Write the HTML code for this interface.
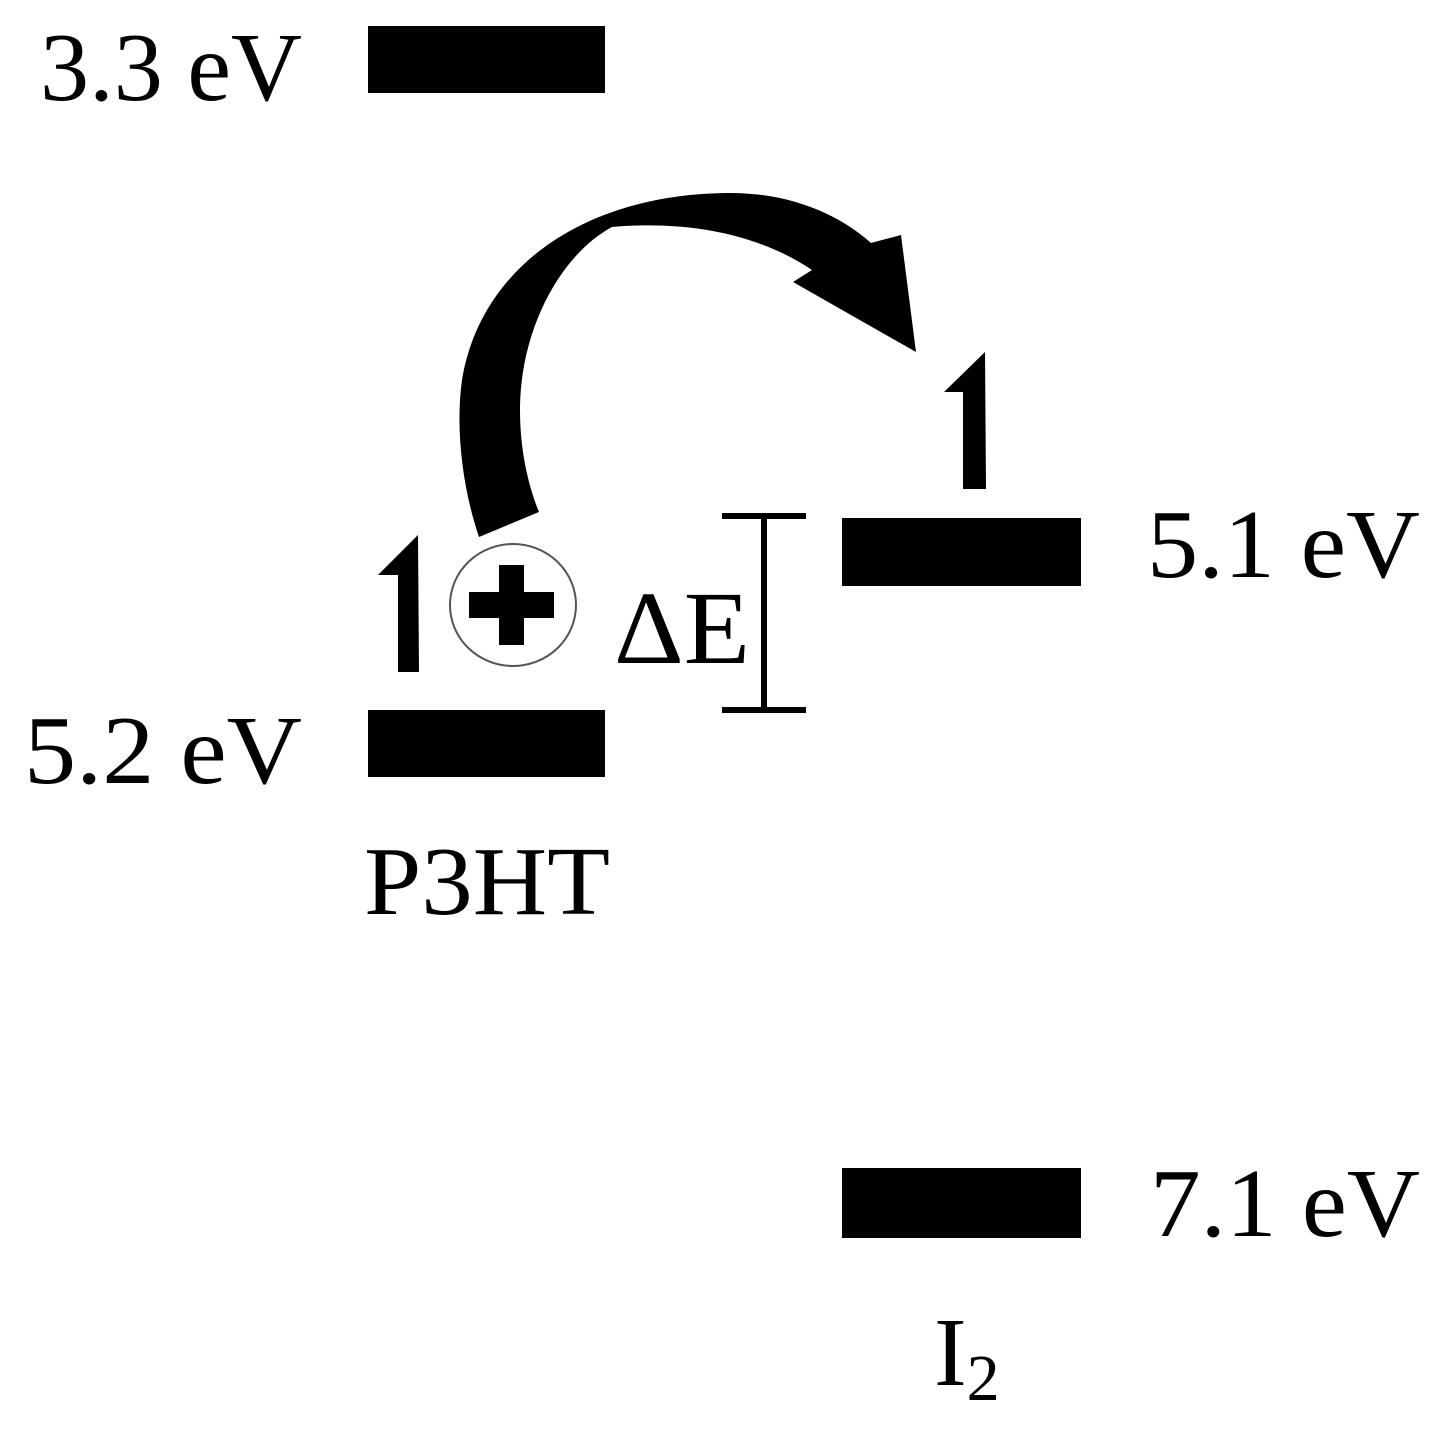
<!DOCTYPE html>
<html><head><meta charset="utf-8"><style>html,body{margin:0;padding:0;background:#fff}svg{display:block}</style></head>
<body>
<svg width="1455" height="1430" viewBox="0 0 1455 1430" xmlns="http://www.w3.org/2000/svg">
<g font-family="Liberation Serif, serif" font-size="98" fill="#000">
<text x="40" y="100" textLength="262" lengthAdjust="spacingAndGlyphs">3.3 eV</text>
<text x="24" y="783" textLength="278" lengthAdjust="spacingAndGlyphs">5.2 eV</text>
<text x="1147" y="577" textLength="273" lengthAdjust="spacingAndGlyphs">5.1 eV</text>
<text x="1150" y="1236" textLength="270" lengthAdjust="spacingAndGlyphs">7.1 eV</text>
<text x="364" y="914" textLength="246" lengthAdjust="spacingAndGlyphs">P3HT</text>
<text x="934" y="1385">I<tspan font-size="66" dy="15">2</tspan></text>
<text x="614" y="663" font-size="104" textLength="136" lengthAdjust="spacingAndGlyphs">ΔE</text>
</g>
<rect x="368" y="26" width="237" height="67" fill="#000"/>
<rect x="368" y="710" width="237" height="67" fill="#000"/>
<rect x="842" y="518" width="239" height="68" fill="#000"/>
<rect x="842" y="1168" width="239" height="70" fill="#000"/>
<rect x="722" y="513" width="84" height="6" fill="#000"/>
<rect x="722" y="707" width="84" height="6" fill="#000"/>
<rect x="761" y="516" width="6" height="194" fill="#000"/>
<polygon points="418,535 419,672 398,672 398,575 378,575" fill="#000"/>
<polygon points="985,352 986,489 963,489 963,392 944,392" fill="#000"/>
<ellipse cx="513" cy="605" rx="63" ry="61" fill="none" stroke="#555" stroke-width="2"/>
<rect x="469" y="592" width="85" height="26" fill="#000"/>
<rect x="499" y="565" width="25" height="80" fill="#000"/>
<path d="M479,537 C463,490 455,430 462,380 C480,270 580,195 726,193 C790,192 840,215 871,243 L901,235 L916,352 L793,282 L812,270 C760,235 690,220 612,227 C560,255 520,330 520,410 C520,450 528,485 539,512 Z" fill="#000"/>
</svg>
</body></html>
